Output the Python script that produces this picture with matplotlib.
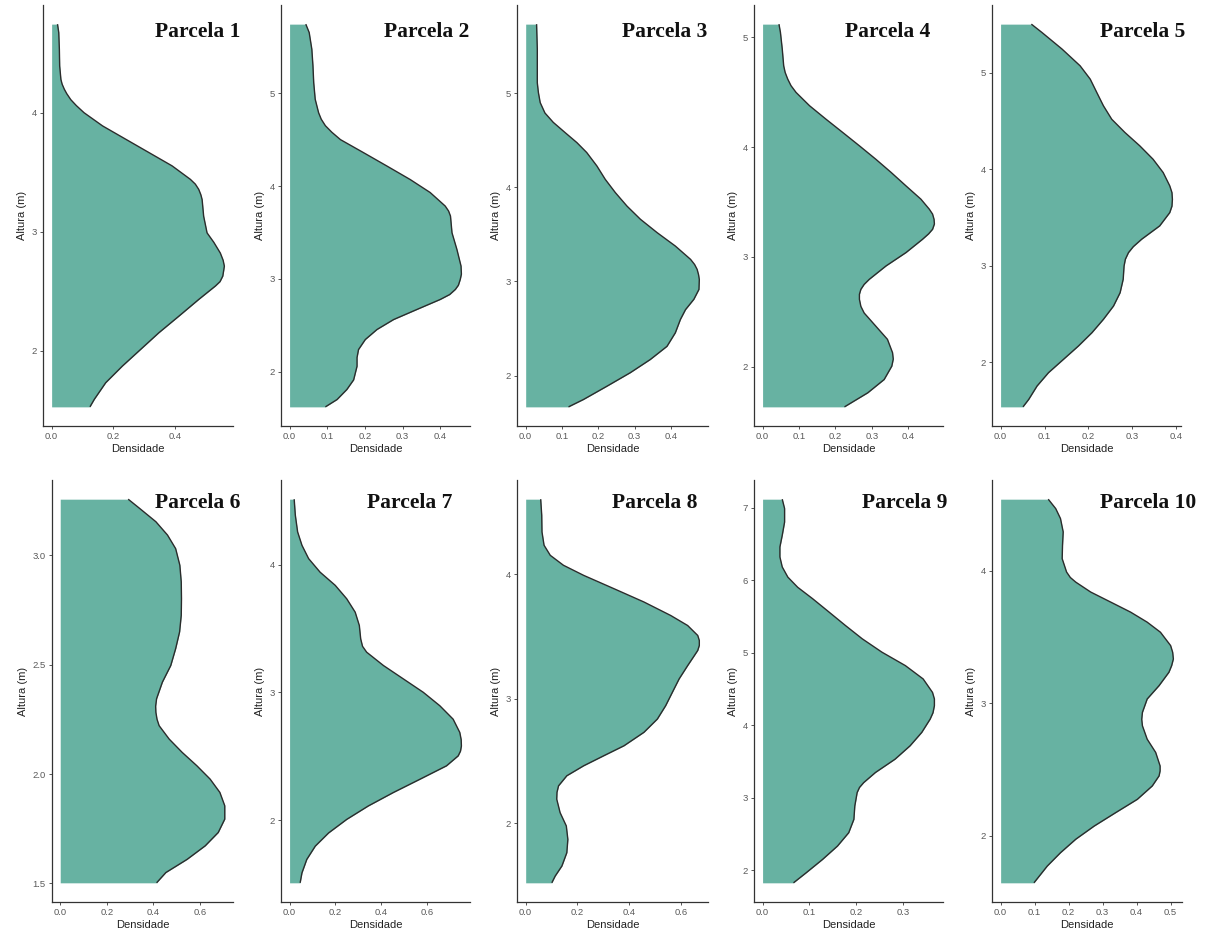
import matplotlib
matplotlib.use("Agg")
import matplotlib.pyplot as plt

# ---------------- data ----------------
titulos = ["Parcela 1", "Parcela 2", "Parcela 3", "Parcela 4", "Parcela 5",
           "Parcela 6", "Parcela 7", "Parcela 8", "Parcela 9", "Parcela 10"]

alt_1 = [4.745, 4.675, 4.534, 4.394, 4.28, 4.24, 4.198, 4.16, 4.11, 4.06, 4.0, 3.889, 3.777,
         3.665, 3.553, 3.44, 3.40, 3.356, 3.31, 3.27, 3.13, 2.99, 2.91, 2.82, 2.76, 2.71, 2.627,
         2.58, 2.543, 2.43, 2.29, 2.15, 2.01, 1.87, 1.73, 1.59, 1.527]
den_1 = [0.019, 0.023, 0.025, 0.026, 0.030, 0.034, 0.041, 0.049, 0.062, 0.080, 0.105, 0.165, 0.240,
         0.315, 0.390, 0.449, 0.465, 0.476, 0.483, 0.487, 0.492, 0.503, 0.525, 0.546, 0.555, 0.559, 0.554,
         0.545, 0.530, 0.476, 0.412, 0.347, 0.288, 0.229, 0.175, 0.138, 0.124]

alt_2 = [5.745, 5.655, 5.475, 5.295, 5.115, 4.935, 4.79, 4.72, 4.65, 4.58, 4.50, 4.36, 4.216,
         4.07, 3.93, 3.784, 3.73, 3.676, 3.496, 3.317, 3.137, 3.05, 2.993, 2.93, 2.885, 2.83,
         2.777, 2.669, 2.56, 2.453, 2.345, 2.237, 2.15, 2.057, 1.91, 1.806, 1.698, 1.619]
den_2 = [0.043, 0.052, 0.059, 0.062, 0.064, 0.068, 0.077, 0.084, 0.095, 0.112, 0.135, 0.196, 0.258,
         0.32, 0.373, 0.413, 0.422, 0.427, 0.431, 0.444, 0.455, 0.456, 0.453, 0.448, 0.44, 0.425,
         0.40, 0.338, 0.276, 0.232, 0.201, 0.183, 0.179, 0.179, 0.17, 0.152, 0.126, 0.095]

alt_3 = [5.734, 5.47, 5.29, 5.11, 5.007, 4.9, 4.79, 4.69, 4.58, 4.475, 4.37, 4.227, 4.085,
         3.943, 3.80, 3.66, 3.518, 3.376, 3.234, 3.18, 3.128, 3.07, 3.02, 2.915, 2.81, 2.70,
         2.596, 2.454, 2.31, 2.17, 2.03, 1.887, 1.745, 1.667]
den_3 = [0.030, 0.032, 0.032, 0.032, 0.035, 0.04, 0.053, 0.076, 0.109, 0.141, 0.168, 0.196, 0.219,
         0.247, 0.279, 0.316, 0.362, 0.412, 0.454, 0.465, 0.472, 0.476, 0.478, 0.477, 0.463, 0.44,
         0.426, 0.412, 0.389, 0.343, 0.288, 0.224, 0.159, 0.118]

alt_4 = [5.12, 5.045, 4.894, 4.74, 4.68, 4.62, 4.56, 4.498, 4.377, 4.255, 4.134, 4.012, 3.89,
         3.77, 3.647, 3.526, 3.435, 3.39, 3.343, 3.30, 3.252, 3.21, 3.16, 3.04, 2.918, 2.796,
         2.75, 2.705, 2.66, 2.614, 2.55, 2.49, 2.37, 2.25, 2.128, 2.07, 2.006, 1.884, 1.763, 1.635]
den_4 = [0.045, 0.049, 0.054, 0.058, 0.062, 0.069, 0.078, 0.092, 0.129, 0.174, 0.22, 0.266, 0.311,
         0.353, 0.394, 0.435, 0.458, 0.467, 0.471, 0.472, 0.467, 0.456, 0.439, 0.394, 0.339, 0.293,
         0.279, 0.27, 0.266, 0.266, 0.27, 0.279, 0.311, 0.343, 0.357, 0.359, 0.355, 0.334, 0.289, 0.225]

alt_5 = [5.506, 5.42, 5.247, 5.074, 4.936, 4.797, 4.66, 4.52, 4.383, 4.244, 4.106, 3.968, 3.83,
         3.76, 3.69, 3.62, 3.553, 3.415, 3.277, 3.2, 3.138, 3.07, 3.0, 2.862, 2.723, 2.585,
         2.447, 2.309, 2.17, 2.032, 1.894, 1.756, 1.617, 1.54]
den_5 = [0.070, 0.094, 0.14, 0.181, 0.204, 0.219, 0.234, 0.253, 0.283, 0.317, 0.347, 0.37, 0.385,
         0.39, 0.391, 0.39, 0.385, 0.362, 0.321, 0.302, 0.291, 0.284, 0.281, 0.279, 0.272, 0.257,
         0.234, 0.208, 0.177, 0.143, 0.109, 0.083, 0.064, 0.051]

alt_6 = [3.256, 3.214, 3.153, 3.092, 3.03, 2.954, 2.878, 2.80, 2.725, 2.65, 2.573, 2.496, 2.42,
         2.344, 2.31, 2.282, 2.25, 2.221, 2.16, 2.099, 2.038, 1.977, 1.916, 1.855, 1.794, 1.733,
         1.672, 1.61, 1.55, 1.503]
den_6 = [0.292, 0.341, 0.411, 0.461, 0.496, 0.514, 0.52, 0.521, 0.52, 0.513, 0.496, 0.475, 0.439,
         0.414, 0.41, 0.411, 0.416, 0.425, 0.468, 0.524, 0.587, 0.644, 0.686, 0.707, 0.707, 0.679,
         0.623, 0.545, 0.454, 0.414]

alt_7 = [4.511, 4.386, 4.255, 4.15, 4.046, 3.94, 3.837, 3.732, 3.627, 3.523, 3.47, 3.418, 3.36,
         3.314, 3.21, 3.105, 3.0, 2.895, 2.79, 2.686, 2.63, 2.58, 2.54, 2.503, 2.425, 2.32,
         2.216, 2.111, 2.006, 1.9, 1.797, 1.693, 1.588, 1.51]
den_7 = [0.020, 0.025, 0.035, 0.054, 0.083, 0.133, 0.199, 0.249, 0.286, 0.304, 0.307, 0.31, 0.318,
         0.336, 0.409, 0.496, 0.583, 0.655, 0.713, 0.742, 0.748, 0.749, 0.745, 0.735, 0.684, 0.568,
         0.452, 0.343, 0.249, 0.17, 0.112, 0.075, 0.054, 0.046]

alt_8 = [4.605, 4.476, 4.342, 4.235, 4.154, 4.074, 3.993, 3.886, 3.779, 3.67, 3.59, 3.51, 3.47,
         3.43, 3.39, 3.349, 3.268, 3.161, 3.054, 2.946, 2.839, 2.732, 2.624, 2.544, 2.463, 2.383,
         2.302, 2.25, 2.195, 2.087, 1.98, 1.872, 1.765, 1.658, 1.577, 1.523]
den_8 = [0.058, 0.062, 0.063, 0.071, 0.095, 0.146, 0.224, 0.341, 0.457, 0.561, 0.626, 0.665, 0.671,
         0.671, 0.665, 0.652, 0.626, 0.593, 0.567, 0.541, 0.509, 0.457, 0.38, 0.302, 0.224, 0.159,
         0.127, 0.121, 0.12, 0.133, 0.157, 0.163, 0.159, 0.14, 0.114, 0.101]

alt_9 = [7.115, 6.986, 6.80, 6.617, 6.456, 6.318, 6.18, 6.04, 5.90, 5.742, 5.558, 5.373, 5.189,
         5.005, 4.82, 4.636, 4.45, 4.36, 4.267, 4.17, 4.083, 3.899, 3.714, 3.53, 3.346, 3.207,
         3.14, 3.07, 2.885, 2.7, 2.516, 2.332, 2.147, 1.963, 1.825]
den_9 = [0.042, 0.047, 0.047, 0.042, 0.037, 0.037, 0.042, 0.054, 0.075, 0.107, 0.142, 0.177, 0.213,
         0.255, 0.305, 0.343, 0.363, 0.367, 0.367, 0.364, 0.358, 0.34, 0.315, 0.283, 0.241, 0.216,
         0.207, 0.202, 0.197, 0.195, 0.184, 0.16, 0.128, 0.093, 0.066]

alt_10 = [4.541, 4.47, 4.395, 4.294, 4.193, 4.092, 3.991, 3.95, 3.915, 3.84, 3.764, 3.689, 3.613,
          3.537, 3.436, 3.385, 3.335, 3.285, 3.235, 3.134, 3.033, 2.932, 2.88, 2.831, 2.73, 2.63,
          2.528, 2.49, 2.453, 2.377, 2.276, 2.175, 2.074, 1.975, 1.873, 1.772, 1.646]
den_10 = [0.140, 0.162, 0.176, 0.184, 0.182, 0.181, 0.194, 0.205, 0.221, 0.265, 0.324, 0.382, 0.431,
          0.47, 0.5, 0.506, 0.508, 0.503, 0.495, 0.466, 0.431, 0.417, 0.415, 0.417, 0.431, 0.456,
          0.469, 0.469, 0.466, 0.446, 0.402, 0.338, 0.275, 0.221, 0.176, 0.137, 0.098]

yticks_list = [[2, 3, 4], [2, 3, 4, 5], [2, 3, 4, 5], [2, 3, 4, 5], [2, 3, 4, 5],
               [1.5, 2.0, 2.5, 3.0], [2, 3, 4], [2, 3, 4], [2, 3, 4, 5, 6, 7], [2, 3, 4]]
ylabels_list = [["2", "3", "4"], ["2", "3", "4", "5"], ["2", "3", "4", "5"], ["2", "3", "4", "5"],
                ["2", "3", "4", "5"], ["1.5", "2.0", "2.5", "3.0"], ["2", "3", "4"], ["2", "3", "4"],
                ["2", "3", "4", "5", "6", "7"], ["2", "3", "4"]]
xticks_list = [[0, 0.2, 0.4], [0, 0.1, 0.2, 0.3, 0.4], [0, 0.1, 0.2, 0.3, 0.4],
               [0, 0.1, 0.2, 0.3, 0.4], [0, 0.1, 0.2, 0.3, 0.4], [0, 0.2, 0.4, 0.6],
               [0, 0.2, 0.4, 0.6], [0, 0.2, 0.4, 0.6], [0, 0.1, 0.2, 0.3],
               [0, 0.1, 0.2, 0.3, 0.4, 0.5]]

alturas = [alt_1, alt_2, alt_3, alt_4, alt_5, alt_6, alt_7, alt_8, alt_9, alt_10]
densidades = [den_1, den_2, den_3, den_4, den_5, den_6, den_7, den_8, den_9, den_10]

# ---------------- layout ----------------
W, H = 1222, 932
fig = plt.figure(figsize=(W / 100, H / 100), dpi=100)
fig.patch.set_facecolor("white")

# panel boxes in pixels: (left, right, top, bottom)
boxes = [(43, 233, 5, 426), (281, 470, 5, 426), (517, 708, 5, 426), (754, 943, 5, 426),
         (992, 1181, 5, 426),
         (52, 233, 480, 902), (281, 470, 480, 902), (517, 708, 480, 902), (754, 943, 480, 902),
         (992, 1182, 480, 902)]
title_pos = [(240, 37), (469, 37), (707, 37), (930, 37), (1185, 37),
             (240, 508), (452, 508), (698, 508), (947, 508), (1196, 508)]

FILL = "#67b2a2"
LINE = "#2b2b2b"
SANS = ["Liberation Sans", "DejaVu Sans"]
SERIF = ["Liberation Serif", "DejaVu Serif"]

for i in range(10):
    l, r, t, b = boxes[i]
    ax = fig.add_axes([l / W, 1 - b / H, (r - l) / W, (b - t) / H])
    h = alturas[i]
    d = densidades[i]
    ax.fill_betweenx(h, 0, d, color=FILL, lw=0)
    ax.plot(d, h, color=LINE, lw=1.0, solid_joinstyle="round", solid_capstyle="butt")

    dmax = max(d)
    hmin, hmax = min(h), max(h)
    hr = hmax - hmin
    ax.set_xlim(-0.05 * dmax, 1.05 * dmax)
    ax.set_ylim(hmin - 0.05 * hr, hmax + 0.05 * hr)

    ax.set_xticks(xticks_list[i])
    ax.set_xticklabels(["%.1f" % v for v in xticks_list[i]], family=SANS)
    ax.set_yticks(yticks_list[i])
    ax.set_yticklabels(ylabels_list[i], family=SANS)

    for s in ["top", "right"]:
        ax.spines[s].set_visible(False)
    for s in ["left", "bottom"]:
        ax.spines[s].set_color("#333333")
        ax.spines[s].set_linewidth(0.9)
    ax.tick_params(axis="both", length=2.5, width=0.7, color="#555555",
                   labelsize=6.8, labelcolor="#5a5a5a", pad=2)

    ax.set_xlabel("Densidade", family=SANS, fontsize=8, color="#222222", labelpad=2)
    ax.set_ylabel("Altura (m)", family=SANS, fontsize=8, color="#222222", labelpad=3)

    tx, ty = title_pos[i]
    fig.text(tx / W, 1 - ty / H, titulos[i], ha="right", va="baseline",
             family=SERIF, fontweight="bold", fontsize=15.5, color="#111111")

fig.savefig("out.png", dpi=100, facecolor="white")
